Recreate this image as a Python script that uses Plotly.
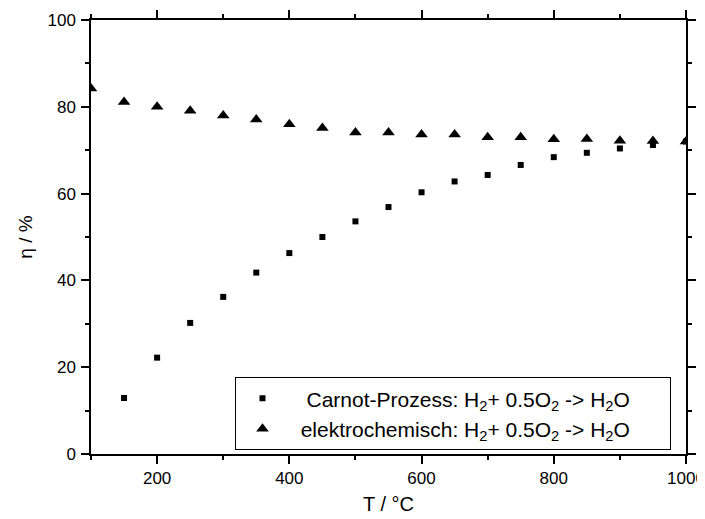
import plotly.graph_objects as go

temps_carnot = [150, 200, 250, 300, 350, 400, 450, 500, 550, 600, 650, 700, 750, 800, 850, 900, 950, 1000]
eta_carnot = [12.9, 22.2, 30.2, 36.2, 41.8, 46.3, 50.0, 53.6, 56.9, 60.3, 62.8, 64.3, 66.6, 68.4, 69.4, 70.4, 71.2, 72.0]

temps_elektro = [100, 150, 200, 250, 300, 350, 400, 450, 500, 550, 600, 650, 700, 750, 800, 850, 900, 950, 1000]
eta_elektro = [84.2, 81.1, 80.0, 79.1, 78.0, 77.1, 76.0, 75.1, 74.1, 74.1, 73.6, 73.6, 73.0, 73.0, 72.5, 72.6, 72.2, 72.1, 72.0]

x_ticks = [200, 400, 600, 800, 1000]
y_ticks = [0, 20, 40, 60, 80, 100]

FONT = "Liberation Sans, Arial, sans-serif"
NB = "\u00a0"
reaction = "H<sub>2</sub>+ 0.5O<sub>2</sub> -> H<sub>2</sub>O"

fig = go.Figure()
fig.add_trace(go.Scatter(
    x=temps_carnot, y=eta_carnot, mode="markers",
    marker=dict(symbol="square", size=6, color="black"),
    name=NB * 3 + "Carnot-Prozess: " + reaction + NB * 6,
))
fig.add_trace(go.Scatter(
    x=temps_elektro, y=eta_elektro, mode="markers",
    marker=dict(symbol="triangle-up", size=11, color="black"),
    name=NB * 2 + "elektrochemisch: " + reaction + NB * 6,
))

axis_common = dict(
    showline=True, linecolor="black", linewidth=1.5, mirror="ticks",
    ticks="outside", ticklen=8, tickwidth=1.5, tickcolor="black",
    showgrid=False, zeroline=False, automargin=False,
    ticklabeloverflow="allow",
    tickfont=dict(family=FONT, size=17, color="black"),
)

fig.update_xaxes(
    range=[100, 1000], tickvals=x_ticks, ticklabelstandoff=0,
    minor=dict(dtick=100, ticks="outside", ticklen=4, tickwidth=1.5, tickcolor="black"),
    **axis_common,
)
fig.update_yaxes(
    range=[0, 100], tickvals=y_ticks, ticklabelstandoff=2,
    minor=dict(dtick=10, ticks="outside", ticklen=4, tickwidth=1.5, tickcolor="black"),
    title=dict(text="η / %", font=dict(family=FONT, size=19, color="black"), standoff=10),
    **axis_common,
)

fig.add_annotation(
    text="T / °C", xref="paper", yref="paper", x=0.5, y=-0.145,
    xanchor="center", yanchor="bottom", showarrow=False,
    font=dict(family=FONT, size=20, color="black"),
)

# page body adds an 8px offset, so the figure is sized to fit the 705x519 window
fig.update_layout(
    width=697, height=511,
    margin=dict(l=83, r=19, t=12, b=65, autoexpand=False),
    plot_bgcolor="white", paper_bgcolor="white",
    font=dict(family=FONT, color="black"),
    showlegend=True,
    legend=dict(
        x=0.242, y=0.177, xanchor="left", yanchor="top",
        bgcolor="white", bordercolor="black", borderwidth=1,
        font=dict(family=FONT, size=21, color="black"),
        itemwidth=43,
        tracegroupgap=0,
    ),
)

fig.write_html("out.html")
